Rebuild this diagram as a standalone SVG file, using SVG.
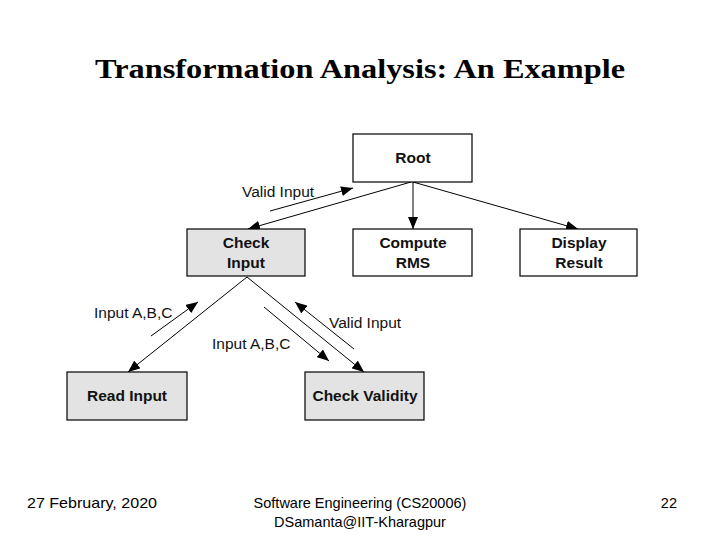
<svg xmlns="http://www.w3.org/2000/svg" width="720" height="540" viewBox="0 0 720 540">
<defs>
<style>
.box{stroke:#000;stroke-width:1.2}
.w{fill:#fff}
.g{fill:#e3e3e3}
.nt{font-family:"Liberation Sans",Arial,sans-serif;font-weight:bold;font-size:15.5px;text-anchor:middle;fill:#111}
.lb{font-family:"Liberation Sans",Arial,sans-serif;font-size:15.5px;fill:#111}
.ft{font-family:"Liberation Sans",Arial,sans-serif;font-size:14.5px;fill:#000}
.ln{stroke:#000;stroke-width:1;fill:none}
</style>
<marker id="ah" viewBox="0 0 12 10" refX="12" refY="5" markerWidth="12" markerHeight="10" markerUnits="userSpaceOnUse" orient="auto">
<path d="M0,0 L12,5 L0,10 Z" fill="#000"/>
</marker>
</defs>
<rect width="720" height="540" fill="#fff"/>
<text x="360" y="78" font-family="'Liberation Serif','Times New Roman',serif" font-weight="bold" font-size="28" text-anchor="middle" textLength="530" lengthAdjust="spacingAndGlyphs">Transformation Analysis: An Example</text>

<g id="connectors">
<line class="ln" x1="411" y1="182" x2="248" y2="229" marker-end="url(#ah)"/>
<line class="ln" x1="413" y1="182" x2="413" y2="229" stroke-width="1.8" marker-end="url(#ah)"/>
<line class="ln" x1="413" y1="182" x2="578" y2="229" marker-end="url(#ah)"/>
<line class="ln" x1="270" y1="211" x2="353" y2="188" marker-end="url(#ah)"/>
<line class="ln" x1="247" y1="277" x2="128" y2="372" marker-end="url(#ah)"/>
<line class="ln" x1="247" y1="277" x2="364" y2="372" marker-end="url(#ah)"/>
<line class="ln" x1="151" y1="336" x2="198" y2="302" marker-end="url(#ah)"/>
<line class="ln" x1="264" y1="307" x2="329" y2="361" marker-end="url(#ah)"/>
<line class="ln" x1="354" y1="349" x2="295" y2="302" marker-end="url(#ah)"/>
<text class="lb" x="242" y="197">Valid Input</text>
<text class="lb" x="94" y="318">Input A,B,C</text>
<text class="lb" x="329" y="328">Valid Input</text>
<text class="lb" x="212" y="349">Input A,B,C</text>
</g>

<g id="root"><rect class="box w" x="353" y="134" width="119" height="48"/><text class="nt" x="413" y="163">Root</text></g>
<g id="check-input"><rect class="box g" x="187" y="229" width="118" height="47"/><text class="nt" x="246" y="248">Check</text><text class="nt" x="246" y="268">Input</text></g>
<g id="compute-rms"><rect class="box w" x="353" y="229" width="119" height="47"/><text class="nt" x="413" y="248">Compute</text><text class="nt" x="413" y="268">RMS</text></g>
<g id="display-result"><rect class="box w" x="520" y="229" width="117" height="47"/><text class="nt" x="579" y="248">Display</text><text class="nt" x="579" y="268">Result</text></g>
<g id="read-input"><rect class="box g" x="67" y="372" width="120" height="48"/><text class="nt" x="127" y="401">Read Input</text></g>
<g id="check-validity"><rect class="box g" x="305" y="372" width="119" height="48"/><text class="nt" x="365" y="401">Check Validity</text></g>

<text class="ft" x="27" y="508" textLength="130" lengthAdjust="spacingAndGlyphs">27 February, 2020</text>
<text class="ft" x="360" y="508" text-anchor="middle">Software Engineering (CS20006)</text>
<text class="ft" x="360" y="527" text-anchor="middle">DSamanta@IIT-Kharagpur</text>
<text class="ft" x="677" y="508" text-anchor="end">22</text>
</svg>
